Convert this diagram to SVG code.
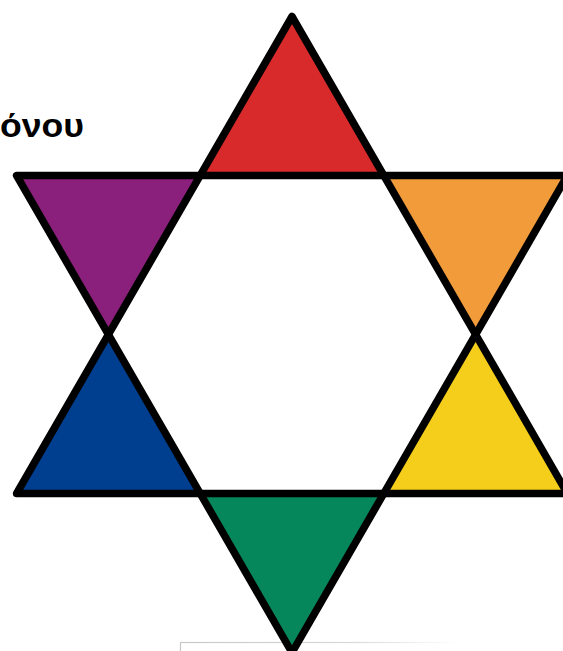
<svg xmlns="http://www.w3.org/2000/svg" width="563" height="651" viewBox="0 0 563 651">
  <defs>
    <linearGradient id="fade" x1="180" y1="0" x2="460" y2="0" gradientUnits="userSpaceOnUse">
      <stop offset="0" stop-color="#c8c8c8"/>
      <stop offset="0.6" stop-color="#d8d8d8"/>
      <stop offset="1" stop-color="#ffffff"/>
    </linearGradient>
  </defs>
  <style>
    .pt { stroke: none; }
    .outline { fill: none; stroke: #000; stroke-width: 7.5; stroke-linejoin: round; }
    .label { font-family: "Liberation Sans", Arial, sans-serif; font-weight: bold; font-size: 34px; fill: #000; }
  </style>
  <rect width="563" height="651" fill="#fff"/>
  <text class="label" x="0" y="137" textLength="84" lengthAdjust="spacingAndGlyphs">όνου</text>
  <rect x="180.5" y="642.5" width="320" height="20" fill="none" stroke="url(#fade)" stroke-width="1.2"/>
  <g id="red"><polygon class="pt" fill="#D82A2A" points="292,16.5 383.8,175.5 200.2,175.5"/></g>
  <g id="orange"><polygon class="pt" fill="#F19B3B" points="383.8,175.5 567.4,175.5 475.6,334.5"/></g>
  <g id="yellow"><polygon class="pt" fill="#F5CE1B" points="475.6,334.5 567.4,493.5 383.8,493.5"/></g>
  <g id="green"><polygon class="pt" fill="#05865B" points="383.8,493.5 200.2,493.5 292,652.5"/></g>
  <g id="blue"><polygon class="pt" fill="#003F8F" points="200.2,493.5 16.6,493.5 108.4,334.5"/></g>
  <g id="purple"><polygon class="pt" fill="#8B1F7C" points="108.4,334.5 16.6,175.5 200.2,175.5"/></g>
  <g id="connectors">
    <polygon class="outline" points="292,16.5 567.4,493.5 16.6,493.5"/>
    <polygon class="outline" points="16.6,175.5 567.4,175.5 292,652.5"/>
  </g>
</svg>
